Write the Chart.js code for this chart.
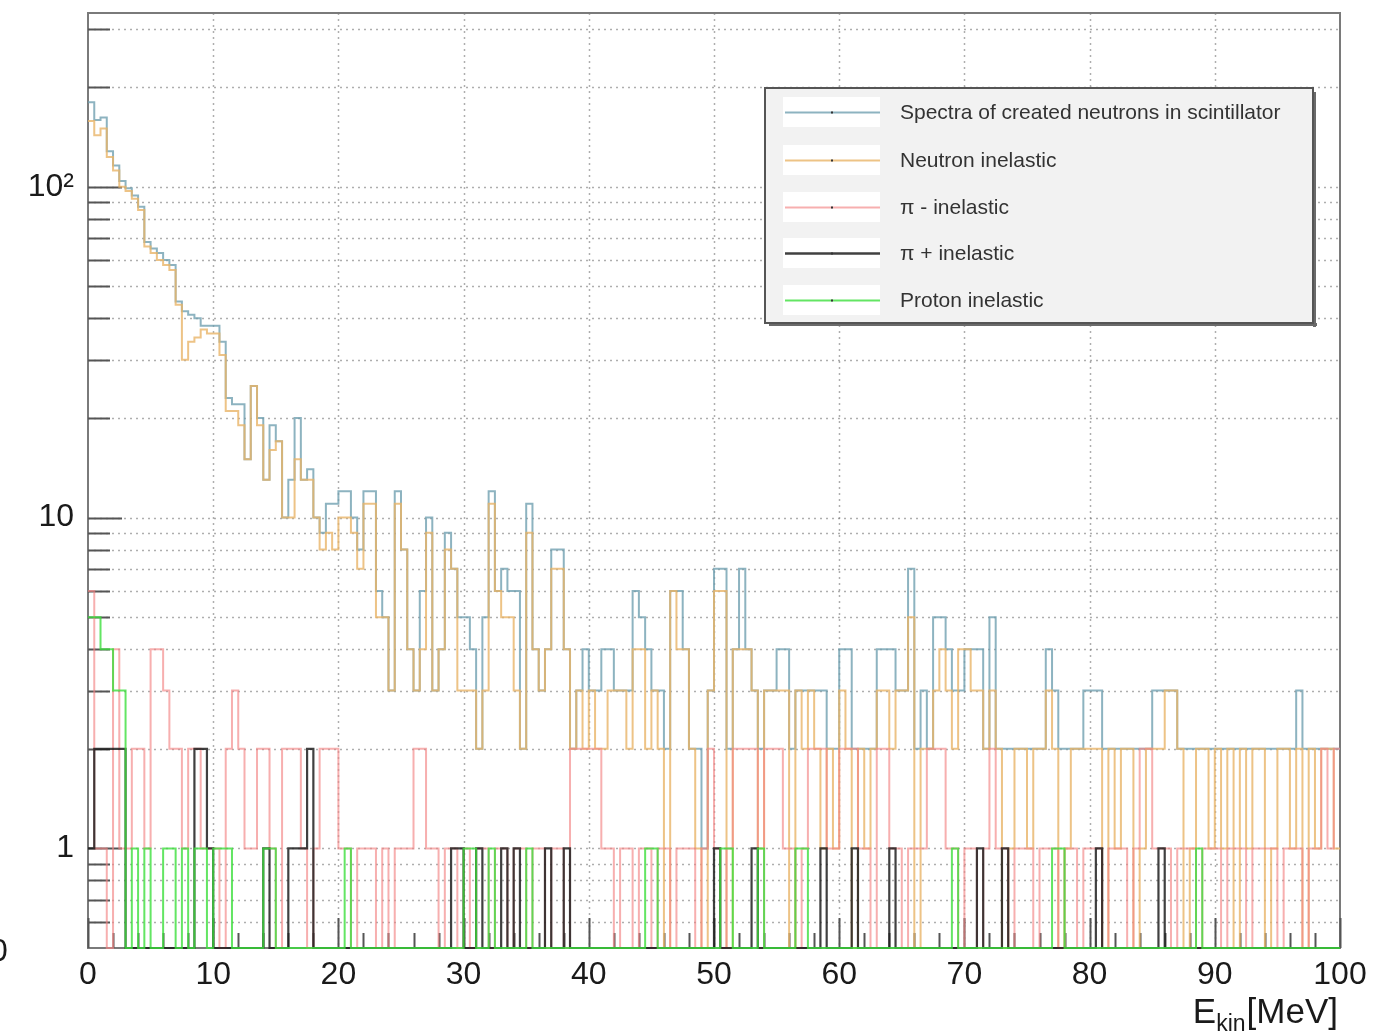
<!DOCTYPE html>
<html>
<head>
<meta charset="utf-8">
<title>Neutron spectra</title>
<script src="https://cdn.jsdelivr.net/npm/chart.js@4.4.1/dist/chart.umd.min.js"></script>
<style>
  html, body { margin: 0; padding: 0; background: #fff; }
  #wrap { width: 1378px; height: 1036px; }
</style>
</head>
<body>
<div id="wrap"><canvas id="myChart" width="1378" height="1036"></canvas></div>
<script>
// histograms: 200 bins of 0.5 MeV from 0 to 100 MeV, one row = 10 MeV
const binWidth = 0.5;

const createdNeutrons = [
  180,159,162,128,116,104,99,94,87,68, 65,63,60,58,45,42,41,40,38,38,
  38,34,23,22,22,15,25,20,13,19, 17,10,13,20,13,14,10,9,11,11,
  12,12,10,8,12,12,6,5,3,12, 8,4,3,6,10,3,4,9,7,5,
  5,4,2,5,12,6,7,6,6,2, 11,4,3,4,8,8,4,2,3,4,
  3,3,4,4,3,3,3,6,5,4, 3,3,2,6,6,4,2,2,1,3,
  7,7,2,4,7,4,3,2,3,3, 4,4,2,3,3,3,3,3,2,2,
  4,4,2,2,2,2,4,4,4,3, 3,7,2,3,2,5,5,4,3,3,
  4,4,4,2,5,2,2,2,2,2, 2,2,2,4,3,2,2,2,2,3,
  3,3,2,2,2,2,2,2,2,2, 3,3,3,3,2,2,2,2,2,2,
  2,2,2,2,2,2,2,2,2,2, 2,2,2,3,2,2,2,2,2,2
];

const neutronInelastic = [
  158,143,150,123,112,100,97,92,85,66, 63,60,58,56,44,30,34,35,37,36,
  36,31,21,21,19,15,25,19,13,16, 17,10,10,15,13,13,10,8,9,8,
  10,10,9,7,11,11,5,5,3,11, 8,4,3,4,9,3,4,8,7,3,
  3,3,2,3,11,6,5,5,3,2, 9,4,3,4,7,7,4,2,3,2,
  3,2,2,3,3,3,2,4,4,2, 3,2,0,6,4,4,2,1,0,3,
  6,6,0,4,4,4,3,1,3,3, 3,3,0,3,2,3,2,1,2,1,
  3,2,0,2,1,2,3,3,2,3, 3,5,0,2,2,3,4,3,2,4,
  4,3,3,2,3,2,0,1,2,2, 1,2,2,3,2,0,1,2,2,2,
  2,2,0,2,1,2,2,0,1,2, 2,2,3,3,2,0,1,2,2,1,
  2,1,2,0,2,1,2,2,0,1, 2,2,1,2,0,2,1,2,2,1
];

const piMinusInelastic = [
  6,1,1,0,4,1,1,2,2,1, 4,4,3,2,2,1,2,2,1,1,
  1,0,2,3,2,1,1,2,2,1, 0,2,2,2,1,0,1,2,2,2,
  1,1,0,1,1,1,0,1,0,1, 1,1,2,2,1,1,0,1,1,0,
  1,0,1,1,0,1,1,0,1,1, 0,1,1,0,1,1,0,2,2,2,
  2,2,1,1,0,1,1,0,1,1, 0,1,1,0,1,1,1,0,1,2,
  1,0,1,2,2,2,2,0,2,2, 2,1,1,0,1,2,2,2,1,1,
  2,2,2,1,1,0,2,2,1,1, 0,1,1,1,2,2,2,1,1,0,
  1,1,0,1,2,1,1,0,1,1, 1,0,1,1,1,0,1,1,0,1,
  1,1,0,1,1,1,0,1,2,2, 1,1,1,0,1,1,1,0,1,1,
  1,0,1,1,1,0,1,1,1,1, 0,1,1,1,0,1,1,2,1,2
];

const piPlusInelastic = [
  1,2,2,2,2,2,0,0,0,0, 0,0,0,0,0,0,0,2,2,1,
  0,0,0,0,0,0,0,0,1,0, 0,0,1,1,1,2,0,0,0,0,
  0,0,0,0,0,0,0,0,0,0, 0,0,0,0,0,0,0,0,1,1,
  0,0,1,0,0,0,1,0,1,0, 0,0,0,1,0,0,1,0,0,0,
  0,0,0,0,0,0,0,0,0,0, 0,0,0,0,0,0,0,0,0,0,
  1,0,0,0,0,0,1,0,0,0, 0,0,0,0,0,0,0,1,0,0,
  0,0,1,0,0,0,0,0,1,0, 0,0,0,0,0,0,0,0,0,0,
  0,0,1,0,0,0,1,0,0,0, 0,0,0,0,0,0,0,0,0,0,
  0,1,0,0,0,0,0,0,0,0, 0,1,0,0,0,0,0,0,0,0,
  0,0,0,0,0,0,0,0,0,0, 0,0,0,0,0,0,0,0,0,0
];

const protonInelastic = [
  5,5,4,4,3,3,0,1,0,1, 0,0,1,1,0,1,0,1,1,0,
  1,1,1,0,0,0,0,0,1,1, 0,0,0,0,0,0,0,0,0,0,
  0,1,0,0,0,0,0,0,0,0, 0,0,0,0,0,0,0,0,0,0,
  1,1,0,0,1,0,0,0,0,0, 1,0,0,0,0,0,0,0,0,0,
  0,0,0,0,0,0,0,0,0,1, 1,0,0,0,0,0,0,0,0,0,
  0,1,1,0,0,0,0,1,0,0, 0,0,0,1,1,0,0,0,0,0,
  0,0,0,0,0,0,0,0,0,0, 0,0,0,0,0,0,0,0,1,0,
  0,0,0,0,0,0,0,0,0,0, 0,0,0,0,1,1,0,0,0,0,
  0,0,0,0,0,0,0,0,0,0, 0,0,0,0,0,0,0,1,0,0,
  0,0,0,0,0,0,0,0,0,0, 0,0,0,0,0,0,0,0,0,0
];

const seriesNames = [
  'Spectra of created neutrons in scintillator',
  'Neutron inelastic',
  '\u03c0 - inelastic',
  '\u03c0 + inelastic',
  'Proton inelastic'
];
const seriesData = [createdNeutrons, neutronInelastic, piMinusInelastic, piPlusInelastic, protonInelastic];
const seriesColors = [
  'rgba(112,160,176,0.8)',
  'rgba(232,180,104,0.8)',
  'rgba(242,132,132,0.65)',
  'rgba(30,30,30,0.85)',
  'rgba(60,222,60,0.8)'
];

// axes
const xTicks = [0, 10, 20, 30, 40, 50, 60, 70, 80, 90, 100];
const yLabelTicks = [1, 10, 100];
const yLabelText = ['1', '10', '10\u00b2'];
const yMin = 0.5;
const yMax = 335;

const FONT = "'Liberation Sans', Arial, Helvetica, sans-serif";

// empty bins fall to the bottom of the log axis, like ROOT does
function toSteps(counts) {
  const pts = counts.map((c, i) => ({ x: i * binWidth, y: c > 0 ? c : yMin }));
  pts.push({ x: counts.length * binWidth, y: pts[pts.length - 1].y });
  return pts;
}

function logGridValues(lo, hi) {
  const out = [];
  for (let dec = 0.1; dec < hi; dec *= 10) {
    for (let m = 1; m <= 9; m++) {
      const v = Math.round(m * dec * 1000) / 1000;
      if (v > lo && v < hi) out.push(v);
    }
  }
  return out;
}

const rootFrame = {
  id: 'rootFrame',
  beforeDatasetsDraw(chart) {
    const { ctx, chartArea: a, scales: { x, y } } = chart;
    ctx.save();

    // dotted grid
    ctx.strokeStyle = 'rgba(120,120,120,0.6)';
    ctx.lineWidth = 1.5;
    ctx.setLineDash([2, 4]);
    xTicks.slice(1, -1).forEach(v => {
      const px = Math.round(x.getPixelForValue(v)) + 0.5;
      ctx.beginPath(); ctx.moveTo(px, a.top); ctx.lineTo(px, a.bottom); ctx.stroke();
    });
    logGridValues(yMin, yMax).forEach(v => {
      const py = Math.round(y.getPixelForValue(v)) + 0.5;
      ctx.beginPath(); ctx.moveTo(a.left, py); ctx.lineTo(a.right, py); ctx.stroke();
    });
    ctx.setLineDash([]);

    // frame
    ctx.strokeStyle = '#7a7a7a';
    ctx.lineWidth = 2;
    ctx.strokeRect(a.left, a.top, a.right - a.left, a.bottom - a.top);

    // tick marks, inside the frame
    ctx.strokeStyle = '#555';
    ctx.lineWidth = 2;
    for (let v = 0; v <= 100; v += 2) {
      const px = Math.round(x.getPixelForValue(v)) + 0.5;
      const len = v % 10 === 0 ? 30 : 15;
      ctx.beginPath(); ctx.moveTo(px, a.bottom); ctx.lineTo(px, a.bottom - len); ctx.stroke();
    }
    logGridValues(yMin, yMax).forEach(v => {
      const py = Math.round(y.getPixelForValue(v)) + 0.5;
      const len = yLabelTicks.includes(v) ? 34 : 22;
      ctx.beginPath(); ctx.moveTo(a.left, py); ctx.lineTo(a.left + len, py); ctx.stroke();
    });
    ctx.restore();
  },
  afterDraw(chart) {
    const { ctx } = chart;
    ctx.save();

    // legend box with shadow
    const lx = 765, ly = 88, lw = 548, lh = 235;
    ctx.fillStyle = '#6a6a6a';
    ctx.fillRect(lx + 4, ly + lh, lw, 3);
    ctx.fillRect(lx + lw, ly + 4, 3, lh);
    ctx.fillStyle = '#f2f2f2';
    ctx.fillRect(lx, ly, lw, lh);
    ctx.strokeStyle = '#555';
    ctx.lineWidth = 2;
    ctx.strokeRect(lx, ly, lw, lh);

    const rows = [112, 160, 207, 253, 300];
    ctx.font = '21px ' + FONT;
    ctx.textBaseline = 'middle';
    ctx.textAlign = 'left';
    seriesNames.forEach((name, i) => {
      const ry = rows[i];
      ctx.fillStyle = '#fff';
      ctx.fillRect(783, ry - 15, 97, 30);
      ctx.strokeStyle = seriesColors[i];
      ctx.lineWidth = i === 3 ? 2.5 : 2;
      ctx.beginPath(); ctx.moveTo(785, ry + 0.5); ctx.lineTo(880, ry + 0.5); ctx.stroke();
      ctx.fillStyle = '#333';
      ctx.fillRect(831, ry - 0.5, 2, 2);
      ctx.fillText(name, 900, ry + 1);
    });

    // x axis title E_kin[MeV], right aligned to the frame edge
    ctx.fillStyle = '#1a1a1a';
    ctx.textBaseline = 'alphabetic';
    ctx.font = '35px ' + FONT;
    const uW = ctx.measureText('[MeV]').width;
    const eW = ctx.measureText('E').width;
    ctx.font = '23px ' + FONT;
    const kW = ctx.measureText('kin').width;
    const x0 = 1338 - uW - kW - eW - 1;
    ctx.fillText('kin', x0 + eW, 1031);
    ctx.font = '35px ' + FONT;
    ctx.fillText('E', x0, 1023);
    ctx.fillText('[MeV]', x0 + eW + kW + 1, 1023);

    // clipped label at the far left
    ctx.font = '32px ' + FONT;
    ctx.textAlign = 'center';
    ctx.textBaseline = 'middle';
    ctx.fillText('0', -1, 952);
    ctx.restore();
  }
};

const ctx = document.getElementById('myChart').getContext('2d');

const datasets = seriesData.map((counts, i) => ({
  label: seriesNames[i],
  data: toSteps(counts),
  borderColor: seriesColors[i],
  borderWidth: i === 3 ? 2.2 : 2,
  pointRadius: 0,
  stepped: 'before',
  fill: false,
  clip: false,
  order: seriesData.length - i
}));

new Chart(ctx, {
  type: 'line',
  data: { datasets },
  plugins: [rootFrame],
  options: {
    responsive: false,
    animation: false,
    devicePixelRatio: 1,
    layout: { padding: { top: 13, right: 38, left: 0, bottom: 0 } },
    plugins: {
      legend: { display: false },
      tooltip: { enabled: false }
    },
    scales: {
      x: {
        type: 'linear',
        min: 0,
        max: 100,
        afterBuildTicks: s => { s.ticks = xTicks.map(v => ({ value: v })); },
        afterFit: s => { s.height = 88; s.paddingLeft = 0; s.paddingRight = 0; },
        grid: { display: false, drawTicks: false },
        border: { display: false },
        ticks: {
          autoSkip: false,
          maxRotation: 0,
          padding: 8,
          color: '#1a1a1a',
          font: { family: FONT, size: 32 },
          callback: v => String(v)
        }
      },
      y: {
        type: 'logarithmic',
        min: yMin,
        max: yMax,
        afterBuildTicks: s => { s.ticks = yLabelTicks.map(v => ({ value: v })); },
        afterFit: s => { s.width = 88; s.paddingTop = 0; s.paddingBottom = 0; },
        grid: { display: false, drawTicks: false },
        border: { display: false },
        ticks: {
          padding: 14,
          color: '#1a1a1a',
          font: { family: FONT, size: 32 },
          callback: v => {
            const k = yLabelTicks.indexOf(v);
            return k >= 0 ? yLabelText[k] : '';
          }
        }
      }
    }
  }
});
</script>
</body>
</html>
